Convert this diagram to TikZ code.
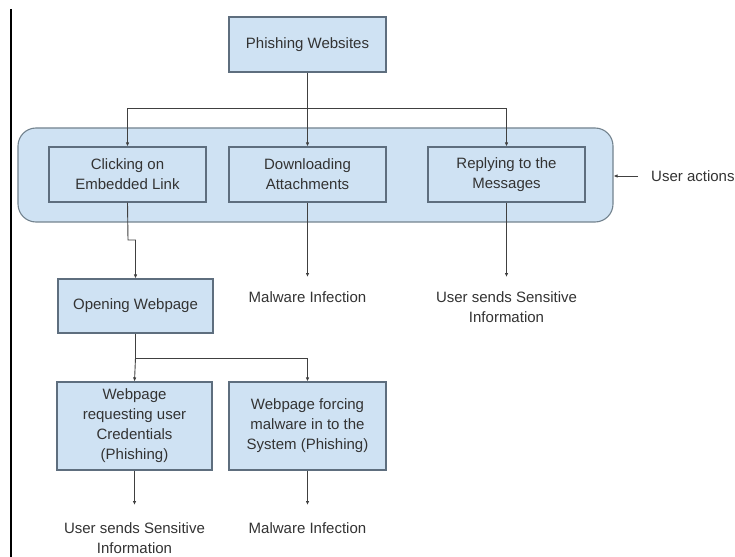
\documentclass[tikz,border=0pt]{standalone}
\usepackage{fontspec}
\setmainfont{Liberation Sans}
\usetikzlibrary{arrows.meta}
\definecolor{boxfill}{HTML}{CFE2F3}
\definecolor{boxline}{HTML}{5E6E7E}
\definecolor{grpline}{HTML}{73838F}
\definecolor{wirec}{HTML}{404040}
\definecolor{ink}{HTML}{333333}
\begin{document}
\begin{tikzpicture}[x=1bp,y=-1bp,
  font=\fontsize{15bp}{20bp}\selectfont,
  box/.style={draw=boxline, fill=boxfill, line width=1.1bp, minimum width=157bp,
    minimum height=55bp, align=center, text=ink, inner sep=2bp},
  group/.style={draw=grpline, fill=boxfill, line width=1.1bp, rounded corners=18bp,
    minimum width=595bp, minimum height=94bp, inner sep=0pt},
  outcome/.style={align=center, text=ink, anchor=north, inner xsep=2bp, inner ysep=14bp},
  wire/.style={draw=wirec, line width=0.9bp},
  arr/.style={wire, -{Latex[length=4bp,width=3.5bp]}}]

% page frame and the rule on the left
\useasboundingbox (0,0) rectangle (735,557);
\fill[white] (0,0) rectangle (735,557);
\draw[line width=1.4bp] (11,9) -- (11,557);

% root
\node[box] (phish) at (307.5,44.5) {Phishing Websites};

% user actions group
\node[group] (acts) at (315.5,175) {};
\node[box] (click) at (127.5,174.5) {Clicking on\\Embedded Link};
\node[box] (down)  at (307.5,174.5) {Downloading\\Attachments};
\node[box] (reply) at (506.5,174.5) {Replying to the\\Messages};
\node[text=ink, anchor=west, inner sep=0pt] (ua) at (651,176) {User actions};
\draw[arr] ([xshift=-13bp]ua.west) -- (acts.east |- ua.west);

% fan-out from the root
\coordinate (bus) at (307.5,108);
\draw[wire] (phish.south) -- (bus);
\draw[arr] (bus) -| (click.north);
\draw[arr] (bus) -| (reply.north);
\draw[arr] (bus) -- (down.north);

% outcomes of the direct actions
\node[outcome] (mal1) at (307.5,277) {Malware Infection};
\node[outcome] (sens1) at (506.5,277) {User sends Sensitive\\Information};
\draw[arr] (down.south) -- (mal1.north);
\draw[arr] (reply.south) -- (sens1.north);

% link branch
\node[box, minimum width=155bp, minimum height=54bp] (open) at (135.5,306) {Opening Webpage};
\coordinate (jog) at (128,240);
\draw[arr] (click.south) -- (jog) -- (open.north |- jog) -- (open.north);

\node[box, minimum width=155bp, minimum height=88bp] (cred) at (134.5,426)
  {Webpage\\requesting user\\Credentials\\(Phishing)};
\node[box, minimum width=157bp, minimum height=88bp] (force) at (307.5,426)
  {Webpage forcing\\malware in to the\\System (Phishing)};
\coordinate (bus2) at (135.5,358);
\draw[wire] (open.south) -- (bus2);
\draw[arr] (bus2) -- (cred.north);
\draw[arr] (bus2) -| (force.north);

\node[outcome, inner ysep=17bp] (sens2) at (134.5,505) {User sends Sensitive\\Information};
\node[outcome, inner ysep=17bp] (mal2) at (307.5,505) {Malware Infection};
\draw[arr] (cred.south) -- (sens2.north);
\draw[arr] (force.south) -- (mal2.north);
\end{tikzpicture}
\end{document}
